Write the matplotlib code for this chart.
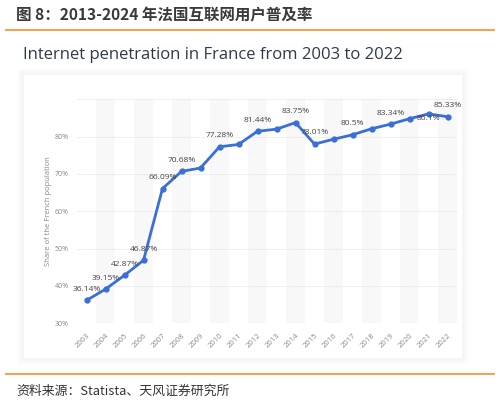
import numpy as np
import matplotlib
matplotlib.use("Agg")
import matplotlib.pyplot as plt
from matplotlib.patches import Rectangle
from matplotlib.lines import Line2D

plt.rcParams['font.family'] = ['Open Sans', 'Noto Sans CJK SC', 'DejaVu Sans']

# Datos
years = list(range(2003, 2023))
penetration = [36.14, 39.15, 42.87, 46.87, 66.09, 70.68, 71.6, 77.28, 77.9, 81.44,
               82.0, 83.75, 78.01, 79.3, 80.5, 82.1, 83.34, 84.8, 86.1, 85.33]
label_years = [2003, 2004, 2005, 2006, 2007, 2008, 2010, 2012, 2014, 2015,
               2017, 2019, 2021, 2022]
label_texts = ['36.14%', '39.15%', '42.87%', '46.87%', '66.09%', '70.68%', '77.28%',
               '81.44%', '83.75%', '78.01%', '80.5%', '83.34%', '86.1%', '85.33%']
y_ticks = [30, 40, 50, 60, 70, 80, 90]
y_tick_labels = ['30%', '40%', '50%', '60%', '70%', '80%', '']

header = '图 8：2013-2024 年法国互联网用户普及率'
chart_title = 'Internet penetration in France from 2003 to 2022'
y_label = 'Share of the French population'
source = '资料来源：Statista、天风证券研究所'

W, H = 499, 403
fig = plt.figure(figsize=(W / 100, H / 100), dpi=100)
fig.patch.set_facecolor('white')

def fx(px):
    return px / W

def fy(py):
    return 1 - py / H

# Tarjeta con sombra suave (varias capas)
for i, c in enumerate(['#fbfbfb', '#f8f8f8', '#f5f5f5']):
    d = 6 - 2 * i
    fig.patches.append(Rectangle((fx(24 - d), fy(358 + d)), fx(438 + 2 * d),
                                 (283 + 2 * d) / H, transform=fig.transFigure,
                                 facecolor=c, edgecolor='none', zorder=-4 + i))
fig.patches.append(Rectangle((fx(24), fy(358)), fx(438), 283 / H,
                             transform=fig.transFigure, facecolor='white',
                             edgecolor='none', zorder=-1))

# Líneas naranjas
orange = '#f7a04b'
fig.add_artist(Line2D([fx(6), fx(494)], [fy(30), fy(30)], color=orange, lw=1.4))
fig.add_artist(Line2D([fx(6), fx(494)], [fy(374), fy(374)], color=orange, lw=1.4))

fig.text(fx(16), fy(15), header, fontsize=11.2, fontweight='bold', color='#3a3a3a',
         family=['Noto Sans CJK SC', 'DejaVu Sans'], va='center', ha='left')
fig.text(fx(23), fy(55), chart_title, fontsize=12, color='#2d3a4a',
         va='center', ha='left')
fig.text(fx(16), fy(391), source, fontsize=9.3, color='#333333',
         family=['Noto Sans CJK SC', 'DejaVu Sans'], va='center', ha='left')

ax = fig.add_axes([fx(77), fy(323.3), fx(457 - 77), (323.3 - 99.3) / H])
ax.set_facecolor('none')

# Bandas alternas
for yr in years[1::2]:
    ax.axvspan(yr - 0.5, yr + 0.5, color='#f8f8f8', zorder=0, lw=0)

for t in y_ticks:
    ax.axhline(t, color='#dddddd', lw=0.6, ls=(0, (1, 1)), zorder=1)

blue = '#3a6fd8'
ax.plot(years, penetration, color=blue, lw=2, marker='o', ms=3.5, zorder=3,
        solid_capstyle='round', solid_joinstyle='round')

for yr, txt in zip(label_years, label_texts):
    val = penetration[years.index(yr)]
    off = -3 if yr == 2021 else 8
    ax.annotate(txt, (yr, val), xytext=(0, off), textcoords='offset points',
                ha='center', va='center', fontsize=6, color='#444444', zorder=4)

ax.set_xlim(2002.5, 2022.5)
ax.set_ylim(30, 90)
ax.set_yticks(y_ticks)
ax.set_yticklabels(y_tick_labels, fontsize=5, color='#888888')
ax.set_xticks(years)
ax.set_xticklabels([str(y) for y in years], fontsize=5.5, color='#888888',
                   rotation=45, ha='right', rotation_mode='anchor')
ax.tick_params(length=0, pad=6)
ax.tick_params(axis='y', pad=6)
for s in ax.spines.values():
    s.set_visible(False)
ax.set_ylabel(y_label, fontsize=5.5, color='#888888', labelpad=2)

fig.savefig('out.png', dpi=100)
